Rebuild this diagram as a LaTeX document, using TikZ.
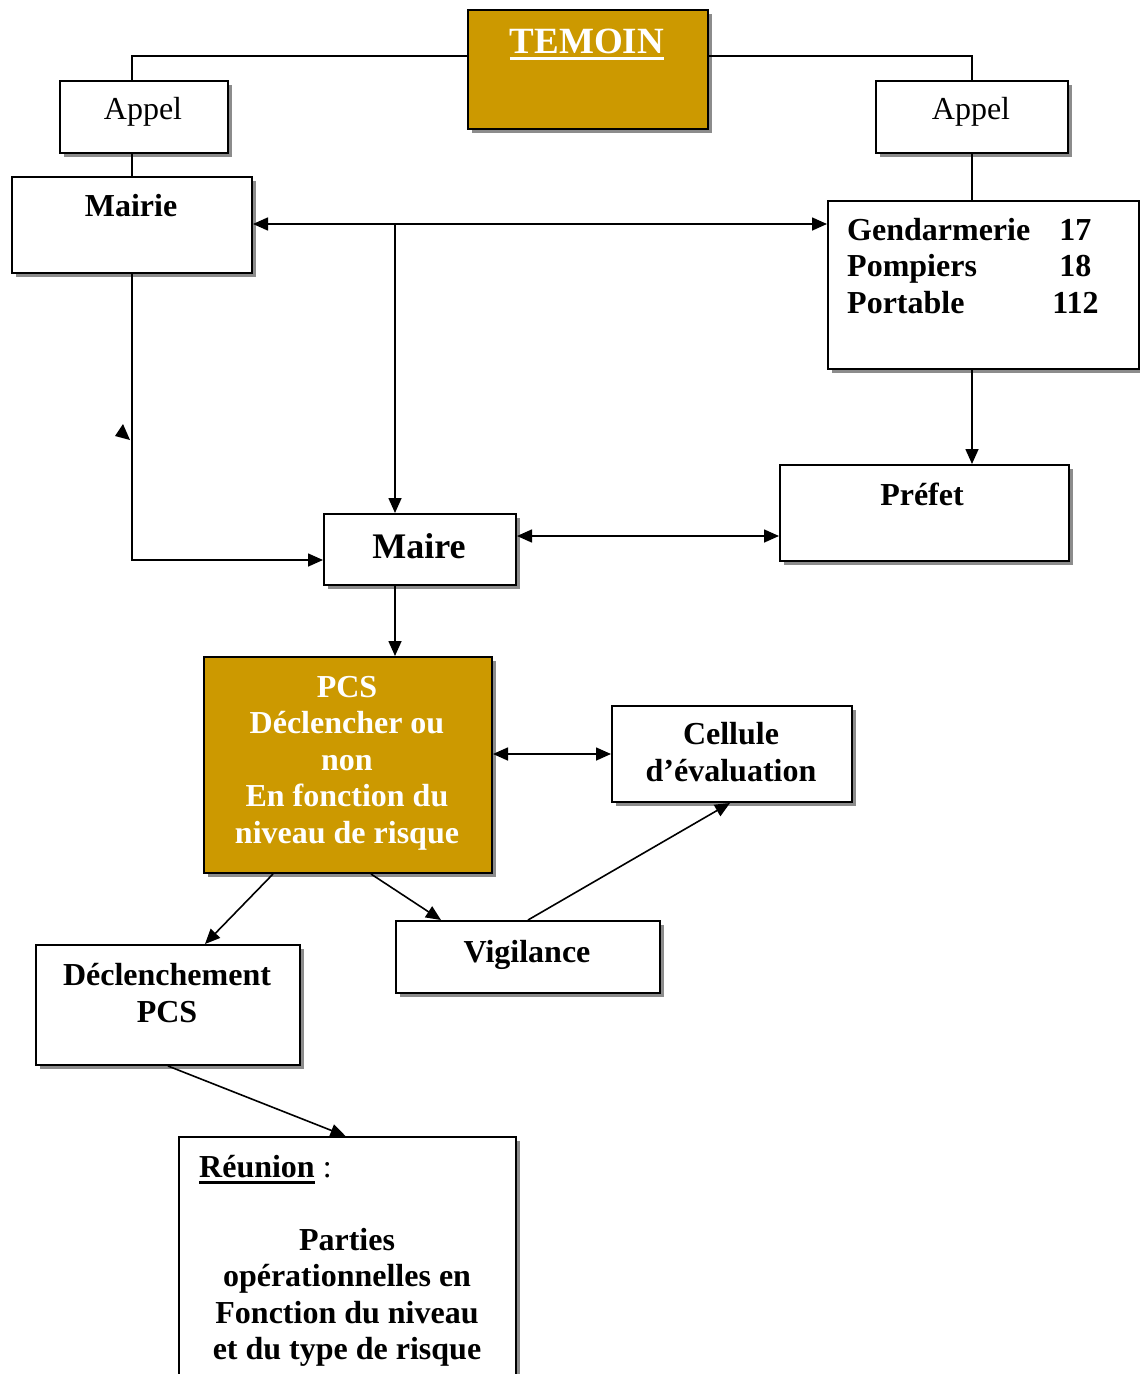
\documentclass[tikz,border=0pt]{standalone}
\usepackage{fontspec}
\setmainfont{Liberation Serif}
\usetikzlibrary{arrows.meta,shadows,calc}
\definecolor{gold}{HTML}{CC9900}
\newcommand\myul[3]{\setbox0\hbox{#3}\rlap{\raisebox{-#2}{\rule{\wd0}{#1}}}\box0}
\tikzset{
  box/.style={draw, line width=2pt, fill=white, anchor=north west, inner sep=0pt,
    drop shadow={shadow xshift=4pt, shadow yshift=-4pt, fill=black!45, opacity=1}},
  goldbox/.style={box, fill=gold},
  txt/.style={font=\fontsize{32}{36.5}\selectfont\bfseries, anchor=base, align=center, inner sep=0pt},
  txtr/.style={font=\fontsize{32}{36.5}\selectfont, anchor=base, align=center, inner sep=0pt},
  conn/.style={line width=1.6pt},
  arr/.style={conn, -{Triangle[length=15pt,width=13pt]}},
  darr/.style={conn, {Triangle[length=15pt,width=13pt]}-{Triangle[length=15pt,width=13pt]}},
}
\begin{document}
\begin{tikzpicture}[x=1pt,y=-1pt]
\useasboundingbox (0,0) rectangle (1140,1374);
\fill[white] (0,0) rectangle (1140,1374);
\clip (0,0) rectangle (1140,1374);

% boxes
\node[goldbox, minimum width=240pt, minimum height=119pt] (temoin) at (467,9) {};
\node[box, minimum width=168pt, minimum height=72pt] (appelL) at (59,80) {};
\node[box, minimum width=192pt, minimum height=72pt] (appelR) at (875,80) {};
\node[box, minimum width=240pt, minimum height=96pt] (mairie) at (11,176) {};
\node[box, minimum width=311pt, minimum height=168pt] (gend) at (827,200) {};
\node[box, minimum width=289pt, minimum height=96pt] (prefet) at (779,464) {};
\node[box, minimum width=192pt, minimum height=71pt] (maire) at (323,513) {};
\node[goldbox, minimum width=288pt, minimum height=216pt] (pcs) at (203,656) {};
\node[box, minimum width=240pt, minimum height=96pt] (cellule) at (611,705) {};
\node[box, minimum width=264pt, minimum height=72pt] (vigil) at (395,920) {};
\node[box, minimum width=264pt, minimum height=120pt] (declen) at (35,944) {};
\node[box, minimum width=337pt, minimum height=270pt] (reunion) at (178,1136) {};

% texts (anchor=base is the baseline of the last line)
\node[txt, text=white, font=\fontsize{37}{40}\selectfont\bfseries] (ttemoin) at (587,53) {\myul{3pt}{7pt}{TEMOIN}};
\node[txtr] (tappelL) at (143,119) {Appel};
\node[txtr] (tappelR) at (971,119) {Appel};
\node[txt] (tmairie) at (131,216) {Mairie};
\node[txt, anchor=base west] (tgend) at (847,240) {\begin{tabular}[t]{@{}l@{\hspace{22pt}}c@{}}Gendarmerie & 17\\ Pompiers & 18\\ Portable & 112\end{tabular}};
\node[txt] (tprefet) at (922,505) {Préfet};
\node[txt, font=\fontsize{36}{40}\selectfont\bfseries] (tmaire) at (419,558) {Maire};
\node[txt, text=white] (tpcs) at (347,843) {PCS\\Déclencher ou\\non\\En fonction du\\niveau de risque};
\node[txt] (tcellule) at (731,781) {Cellule\\d’évaluation};
\node[txt] (tvigil) at (527,962) {Vigilance};
\node[txt] (tdeclen) at (167,1022) {Déclenchement\\PCS};
\node[txtr, anchor=base west] (treunion) at (199,1177) {\textbf{\myul{2.5pt}{6.5pt}{Réunion}} :};
\node[txt] (tparties) at (347,1359.5) {Parties\\opérationnelles en\\Fonction du niveau\\et du type de risque};

% connectors
\draw[conn] ([yshift=-47pt]temoin.north west) -| (appelL.north -| mairie.north);
\draw[conn] ([yshift=-47pt]temoin.north east) -| (appelR.north);
\draw[conn] (appelL.south -| mairie.north) -- (mairie.north);
\draw[conn] (appelR.south) -- (appelR.south |- gend.north);
\draw[darr] ([yshift=-48pt]mairie.north east) -- ([yshift=-24pt]gend.north west);
\coordinate (j1) at (395,224);
\draw[arr] (j1) -- (j1 |- maire.north);
\draw[arr] (mairie.south) |- ([yshift=-47pt]maire.north west);
\fill (123,424) -- (115,436) -- (130,440) -- cycle;
\draw[arr] (gend.south -| appelR.south) -- (prefet.north -| appelR.south);
\draw[darr] ([yshift=-23pt]maire.north east) -- ([yshift=-23pt]maire.north east -| prefet.west);
\draw[arr] (j1 |- maire.south) -- (j1 |- pcs.north);
\draw[darr] (cellule.west -| pcs.east) -- (cellule.west);
\draw[arr] ([xshift=70pt]pcs.south west) -- ([xshift=170pt]declen.north west);
\draw[arr] ([xshift=168pt]pcs.south west) -- ([xshift=46pt]vigil.north west);
\draw[arr] (vigil.north) -- ([xshift=-2pt]cellule.south);
\draw[arr] (declen.south) -- ([xshift=-2pt]reunion.north);
\end{tikzpicture}
\end{document}
